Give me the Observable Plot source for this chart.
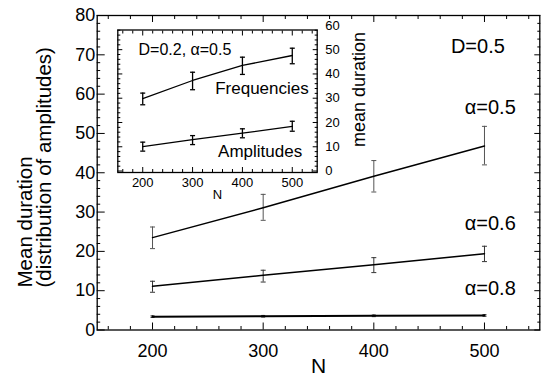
<!DOCTYPE html>
<html><head><meta charset="utf-8">
<script src="https://cdn.jsdelivr.net/npm/d3@7"></script>
<script src="https://cdn.jsdelivr.net/npm/@observablehq/plot@0.6"></script>
<style>
html,body{margin:0;padding:0;background:#fff;}
#chart{position:relative;width:542px;height:389px;overflow:hidden;background:#fff;}
#chart svg{position:absolute;overflow:visible;}
</style></head><body><div id="chart"></div>
<script>
// ---------- data ----------
const N = [200, 300, 400, 500];
// main panel, D=0.5
const a05 = [23.5, 31.1, 39.1, 46.8];
const a05Lo = [20.7, 27.9, 35.1, 42.0];
const a05Hi = [26.2, 34.5, 43.1, 51.8];
const a06 = [11.1, 13.9, 16.6, 19.4];
const a06Lo = [9.6, 12.2, 14.6, 17.4];
const a06Hi = [12.4, 15.2, 18.4, 21.3];
const a08 = [3.4, 3.5, 3.6, 3.7];
const a08Lo = [3.2, 3.3, 3.4, 3.5];
const a08Hi = [3.6, 3.7, 3.8, 3.9];
// inset, D=0.2, alpha=0.5
const freq = [29.8, 37.3, 43.5, 47.6];
const freqLo = [27.3, 33.5, 39.8, 44.2];
const freqHi = [32.1, 40.7, 46.9, 50.6];
const ampl = [10.1, 12.9, 15.6, 18.4];
const amplLo = [8.2, 10.9, 13.7, 16.4];
const amplHi = [11.9, 14.6, 17.4, 20.5];
// ticks
const xTickLabels = [200, 300, 400, 500];
const yTickLabels = [0, 10, 20, 30, 40, 50, 60, 70, 80];
const insetYTickLabels = [0, 10, 20, 30, 40, 50, 60];
// annotations
const mainLabelText = ["D=0.5", "α=0.5", "α=0.6", "α=0.8"];
const mainLabelN = [518.4, 528.3, 528.3, 528.3];
const mainLabelV = [72.0, 56.7, 27.0, 10.5];
const insetLabelText = ["Frequencies", "Amplitudes"];
const insetLabelN = [533.1, 519.9];
const insetLabelV = [34.0, 8.0];

// ---------- helpers ----------
const font = '"Liberation Sans", Arial, Helvetica, sans-serif';
const rows = (m, lo, hi) => N.map((n, i) => ({N: n, v: m[i], lo: lo[i], hi: hi[i]}));
const cap = {draw(ctx, size) { const w = Math.sqrt(size / Math.PI); ctx.moveTo(-w, 0); ctx.lineTo(w, 0); }};
function series(data, o) {
  return [
    Plot.ruleX(data, {x: "N", y1: "lo", y2: "hi", stroke: o.err, strokeWidth: o.ew}),
    Plot.dot(data, {x: "N", y: "lo", symbol: cap, r: o.cap, stroke: o.err, strokeWidth: o.ew, fill: "none"}),
    Plot.dot(data, {x: "N", y: "hi", symbol: cap, r: o.cap, stroke: o.err, strokeWidth: o.ew, fill: "none"}),
    Plot.line(data, {x: "N", y: "v", stroke: "#000", strokeWidth: o.lw})
  ];
}
const range = (a, b, s, skip) => d3.range(a, b + 1e-9, s).filter(v => !skip.includes(v));

const xMinor = range(160, 540, 20, xTickLabels);
const yMinor = range(2, 78, 2, yTickLabels);
const insetYMajor = [0, 10, 20, 30, 40, 50];
const insetYMinor = range(2, 58, 2, insetYMajor);

// ---------- main ----------
const main = Plot.plot({
  width: 542, height: 389,
  marginLeft: 96.7, marginRight: 2.7, marginTop: 15, marginBottom: 59.5,
  style: {fontFamily: font, background: "transparent", color: "#000"},
  x: {domain: [150, 550]},
  y: {domain: [0, 80]},
  marks: [
    Plot.frame({stroke: "#000", strokeWidth: 1.3}),
    Plot.axisX({anchor: "bottom", ticks: xTickLabels, tickSize: -7, fill: "none"}),
    Plot.axisX({anchor: "bottom", ticks: xMinor, tickSize: -3.5, fill: "none"}),
    Plot.axisX({anchor: "top", ticks: xTickLabels, tickSize: -6, fill: "none"}),
    Plot.axisX({anchor: "top", ticks: xMinor, tickSize: -3, fill: "none"}),
    Plot.axisY({anchor: "left", ticks: yTickLabels, tickSize: -8, fill: "none"}),
    Plot.axisY({anchor: "left", ticks: yMinor, tickSize: -3.5, fill: "none"}),
    Plot.axisY({anchor: "right", ticks: yTickLabels, tickSize: -6, fill: "none"}),
    Plot.axisY({anchor: "right", ticks: yMinor, tickSize: -3, fill: "none"}),
    Plot.axisX({anchor: "bottom", ticks: xTickLabels, tickSize: 0, tickPadding: 14, fontSize: 18, label: null}),
    Plot.axisY({anchor: "left", ticks: yTickLabels, tickSize: 0, tickPadding: 2, fontSize: 18, label: null}),
    Plot.text(["N"], {frameAnchor: "bottom", textAnchor: "middle", dy: 43, fontSize: 21}),
    Plot.text(["Mean duration\n(distribution of amplitudes)"], {frameAnchor: "bottom-left", dx: -61.7, dy: -42.5, rotate: -90, textAnchor: "start", lineAnchor: "middle", lineHeight: 0.9, fontSize: 20.5}),
    ...series(rows(a05, a05Lo, a05Hi), {err: "#555", ew: 1, cap: 2.5, lw: 1.5}),
    ...series(rows(a06, a06Lo, a06Hi), {err: "#333", ew: 1, cap: 2.5, lw: 1.5}),
    ...series(rows(a08, a08Lo, a08Hi), {err: "#222", ew: 1, cap: 2, lw: 2}),
    Plot.text(mainLabelText, {x: (d, i) => mainLabelN[i], y: (d, i) => mainLabelV[i], text: d => d, textAnchor: "end", fontSize: 20})
  ]
});

// ---------- inset ----------
const inset = Plot.plot({
  width: 270, height: 200,
  marginLeft: 17.3, marginRight: 53.3, marginTop: 14.5, marginBottom: 43,
  style: {fontFamily: font, background: "transparent", color: "#000"},
  x: {domain: [150, 550]},
  y: {domain: [-0.6, 58.1]},
  marks: [
    Plot.frame({stroke: "#000", strokeWidth: 1.3}),
    Plot.axisX({anchor: "bottom", ticks: xTickLabels, tickSize: -5, fill: "none"}),
    Plot.axisX({anchor: "bottom", ticks: xMinor, tickSize: -3, fill: "none"}),
    Plot.axisX({anchor: "top", ticks: xTickLabels, tickSize: -5, fill: "none"}),
    Plot.axisX({anchor: "top", ticks: xMinor, tickSize: -3, fill: "none"}),
    Plot.axisY({anchor: "left", ticks: insetYMajor, tickSize: -5, fill: "none"}),
    Plot.axisY({anchor: "left", ticks: insetYMinor, tickSize: -3, fill: "none"}),
    Plot.axisY({anchor: "right", ticks: insetYMajor, tickSize: -5, fill: "none"}),
    Plot.axisY({anchor: "right", ticks: insetYMinor, tickSize: -3, fill: "none"}),
    Plot.axisX({anchor: "bottom", ticks: xTickLabels, tickSize: 0, tickPadding: 5, fontSize: 13, label: null}),
    Plot.axisY({anchor: "right", ticks: insetYTickLabels, tickSize: 0, tickPadding: 8, fontSize: 13, label: null}),
    Plot.text(["N"], {frameAnchor: "bottom", textAnchor: "middle", dy: 26.5, fontSize: 13}),
    Plot.text(["mean duration"], {frameAnchor: "right", textAnchor: "middle", dx: 42, dy: -11.75, rotate: -90, fontSize: 18}),
    ...series(rows(freq, freqLo, freqHi), {err: "#000", ew: 1.3, cap: 2.5, lw: 1.3}),
    ...series(rows(ampl, amplLo, amplHi), {err: "#000", ew: 1.3, cap: 2.5, lw: 1.3}),
    Plot.text(["D=0.2, α=0.5"], {x: [191.5], y: [50.1], text: d => d, textAnchor: "start", fontSize: 16}),
    Plot.text(insetLabelText, {x: (d, i) => insetLabelN[i], y: (d, i) => insetLabelV[i], text: d => d, textAnchor: "end", fontSize: 17})
  ]
});

const chart = document.getElementById("chart");
main.style.left = "0px"; main.style.top = "0px";
inset.style.left = "100px"; inset.style.top = "15px";
chart.appendChild(main);
chart.appendChild(inset);
</script>
</body></html>
